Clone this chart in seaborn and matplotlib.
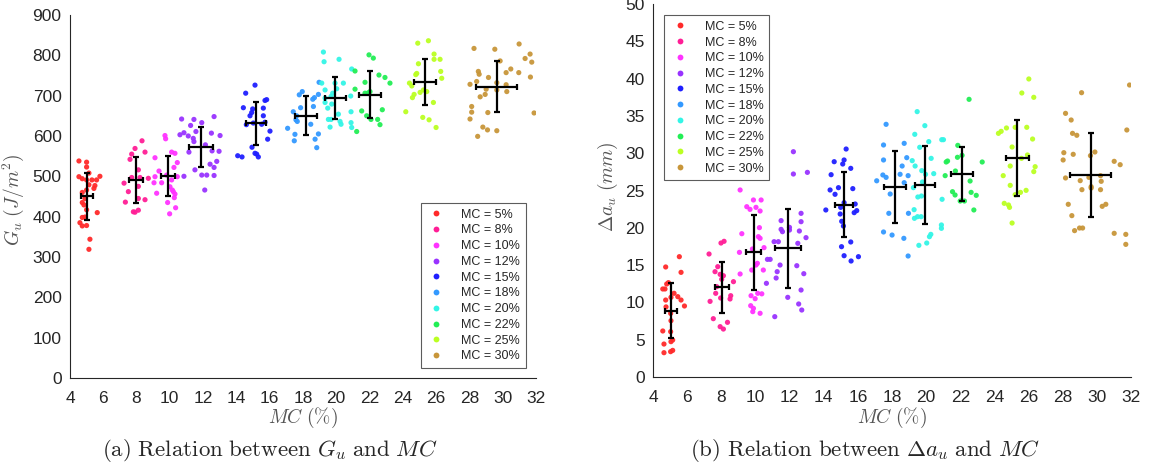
import matplotlib
matplotlib.use("Agg")
import matplotlib.pyplot as plt
from matplotlib.lines import Line2D
from matplotlib.ticker import MultipleLocator
import numpy as np
import pandas as pd
import seaborn as sns

# moisture content groups
groups = ["MC = 5%", "MC = 8%", "MC = 10%", "MC = 12%", "MC = 15%",
          "MC = 18%", "MC = 20%", "MC = 22%", "MC = 25%", "MC = 30%"]
colors = ["#ff2a2a", "#ff1e96", "#ff33ff", "#9933ff", "#1f1fff",
          "#3399ff", "#33f5e6", "#22ee55", "#bbff22", "#c8963a"]

# (a) G_u scatter, one list per group
gu_x = [
    [4.54, 5.0, 5.0, 5.14, 4.54, 4.74, 5.0, 5.32, 5.6, 5.8, 5.14, 5.5, 5.44, 5.0, 4.74, 4.9, 4.74, 4.84, 5.0, 5.64, 4.74, 4.9, 4.6, 4.74, 5.0, 5.2, 5.14],
    [8.33, 7.91, 8.51, 7.71, 7.61, 8.11, 7.71, 8.21, 8.71, 7.25, 8.11, 7.51, 8.11, 8.51, 7.33, 7.81, 7.91, 8.11],
    [9.11, 9.71, 9.75, 10.11, 10.31, 10.45, 9.35, 10.25, 9.11, 9.51, 9.05, 10.01, 10.45, 10.15, 10.21, 10.31, 10.27, 9.21, 9.87, 10.35, 9.99, 9.81, 10.11],
    [10.71, 11.45, 11.25, 11.92, 12.66, 10.85, 10.61, 11.11, 11.41, 11.57, 11.45, 12.5, 13.02, 11.15, 12.14, 12.54, 12.96, 12.82, 12.42, 12.66, 11.51, 11.92, 12.22, 12.66, 10.85, 12.1],
    [15.12, 14.56, 14.42, 14.98, 14.92, 14.82, 15.62, 15.72, 15.82, 15.62, 15.72, 15.52, 16.02, 15.88, 14.94, 14.08, 14.34, 15.12, 15.22, 15.32, 15.02, 14.6],
    [17.96, 17.78, 18.59, 18.69, 18.93, 17.86, 18.63, 17.42, 17.62, 17.58, 17.66, 18.47, 17.08, 18.93, 17.52, 18.73, 17.48, 18.83, 18.97],
    [19.23, 19.27, 20.17, 19.13, 19.33, 19.93, 20.43, 20.03, 19.79, 19.69, 19.33, 19.73, 19.49, 20.93, 20.87, 20.89, 20.13, 19.53, 19.69, 20.23, 20.29, 20.89, 20.93, 19.63, 19.33],
    [21.97, 22.23, 21.13, 22.57, 22.93, 23.23, 21.73, 21.13, 21.73, 21.93, 22.03, 22.77, 21.53, 21.83, 22.09, 22.49, 22.63, 21.23],
    [24.9, 25.54, 25.88, 25.88, 26.24, 24.94, 24.84, 24.78, 26.28, 26.34, 24.4, 24.54, 25.24, 25.44, 25.04, 24.68, 24.58, 25.84, 24.18, 25.2, 25.58, 26.0],
    [28.28, 29.53, 30.99, 31.65, 31.35, 31.75, 29.85, 30.49, 30.21, 30.97, 28.54, 28.59, 29.15, 28.44, 29.65, 31.67, 28.04, 30.21, 30.25, 29.01, 28.95, 28.65, 29.65, 28.14, 28.14, 28.04, 29.11, 31.89, 28.81, 29.09, 29.65, 28.5],
]
gu_y = [
    [538, 535, 523, 508, 499, 494, 491, 491, 491, 500, 479, 477, 470, 466, 460, 445, 435, 429, 417, 410, 398, 399, 385, 377, 378, 344, 319],
    [588, 569, 560, 555, 542, 516, 497, 497, 495, 483, 475, 462, 445, 442, 436, 412, 411, 416],
    [546, 601, 593, 560, 557, 534, 513, 522, 499, 484, 484, 474, 499, 466, 462, 456, 447, 458, 435, 422, 407, 503, 491],
    [642, 641, 626, 633, 648, 608, 603, 600, 594, 611, 586, 607, 601, 560, 578, 563, 562, 537, 530, 522, 516, 503, 503, 502, 500, 466],
    [726, 706, 670, 667, 658, 650, 669, 688, 690, 650, 634, 629, 612, 592, 572, 551, 548, 557, 555, 548, 632, 628],
    [710, 702, 691, 695, 703, 670, 673, 660, 650, 640, 636, 629, 619, 605, 604, 592, 588, 571, 733],
    [808, 784, 790, 731, 714, 731, 731, 717, 706, 698, 683, 679, 669, 766, 699, 660, 654, 641, 641, 636, 629, 633, 621, 622, 694],
    [801, 793, 761, 751, 745, 731, 733, 716, 706, 707, 710, 665, 662, 650, 641, 641, 628, 611],
    [830, 836, 803, 790, 790, 779, 755, 752, 760, 743, 731, 724, 714, 710, 708, 703, 695, 683, 660, 646, 640, 621],
    [817, 815, 828, 803, 792, 783, 786, 766, 757, 757, 760, 753, 745, 735, 732, 746, 728, 727, 710, 716, 703, 697, 714, 673, 659, 642, 658, 657, 622, 615, 613, 599],
]

# (b) delta a_u scatter, one list per group
da_x = [
    [5.54, 4.74, 5.64, 4.8, 4.9, 4.57, 4.7, 5.23, 5.45, 5.64, 5.84, 4.74, 5.05, 5.05, 5.03, 4.57, 5.03, 5.05, 5.15, 4.64, 5.03, 5.15, 4.64, 4.76],
    [7.98, 8.16, 7.28, 7.79, 7.63, 7.93, 8.12, 8.02, 8.71, 7.73, 7.67, 7.96, 8.55, 8.51, 7.34, 7.53, 8.36, 7.93, 8.12],
    [9.1, 9.88, 10.33, 9.49, 9.68, 10.03, 10.27, 9.2, 10.23, 10.17, 10.27, 10.5, 9.06, 9.82, 10.11, 10.03, 9.78, 10.46, 9.1, 9.74, 10.13, 10.37, 9.98, 9.72, 9.88, 9.84, 10.27],
    [12.22, 12.22, 13.04, 12.67, 12.67, 11.5, 11.99, 11.99, 11.5, 11.58, 12.57, 12.96, 11.09, 11.34, 12.48, 10.7, 10.86, 11.44, 12.42, 11.27, 12.83, 11.21, 10.64, 12.67, 11.89, 12.53, 12.71, 11.13],
    [15.31, 14.61, 15.19, 15.11, 15.58, 14.43, 14.37, 14.86, 15.7, 14.66, 14.12, 15.19, 15.84, 14.99, 15.93, 15.78, 14.96, 15.05, 15.15, 15.58, 15.04, 15.19, 16.03, 15.6],
    [17.1, 17.65, 17.5, 18.71, 17.5, 18.86, 18.59, 17.46, 17.65, 18.47, 18.94, 18.71, 17.89, 18.96, 17.81, 17.5, 18.0, 18.69, 18.94],
    [19.47, 19.92, 19.33, 20.15, 20.91, 21.01, 19.62, 20.29, 19.18, 19.35, 19.74, 20.44, 19.96, 19.78, 19.25, 19.51, 19.72, 20.93, 19.29, 19.31, 19.49, 19.7, 20.89, 20.89, 20.27, 20.19, 20.03, 19.57],
    [22.51, 21.85, 22.1, 21.83, 23.28, 21.17, 21.25, 21.71, 21.11, 22.57, 21.54, 21.69, 22.63, 22.93, 21.99, 22.24, 22.79],
    [26.01, 25.6, 26.3, 24.23, 24.39, 24.7, 25.21, 25.89, 26.23, 25.03, 25.93, 25.58, 26.38, 24.92, 26.3, 24.51, 24.92, 25.85, 25.52, 25.21, 24.57, 24.82, 24.88, 25.03],
    [29.1, 31.91, 28.16, 28.49, 28.57, 28.82, 31.75, 28.06, 28.02, 28.61, 29.88, 29.62, 31.01, 31.36, 28.16, 29.02, 29.53, 30.21, 30.25, 29.66, 29.66, 29.12, 30.21, 28.32, 30.31, 30.52, 28.53, 28.98, 29.16, 28.69, 31.01, 31.69, 31.69],
]
da_y = [
    [16.13, 14.75, 14.03, 12.47, 12.65, 11.8, 11.8, 11.22, 10.77, 10.32, 9.52, 10.32, 10.68, 7.55, 8.53, 6.17, 6.08, 4.74, 4.96, 4.42, 3.40, 3.57, 3.26, 9.4],
    [17.96, 18.19, 16.49, 14.79, 14.12, 13.76, 13.58, 13.1, 12.78, 12.11, 11.22, 10.59, 10.9, 10.46, 10.14, 7.82, 7.33, 6.75, 6.43],
    [25.07, 23.73, 23.73, 22.83, 22.47, 22.74, 22.25, 19.21, 20.02, 18.81, 18.59, 17.34, 16.71, 17.16, 15.24, 15.01, 14.34, 14.34, 13.81, 10.9, 11.22, 11.15, 10.5, 9.56, 9.2, 8.76, 8.54],
    [30.2, 27.21, 27.43, 21.94, 20.82, 20.96, 20.06, 19.7, 19.79, 19.48, 19.57, 18.68, 18.14, 18.14, 17.92, 15.77, 15.77, 15.01, 14.92, 14.12, 13.85, 13.27, 12.56, 11.66, 10.68, 9.79, 8.98, 8.09],
    [30.56, 28.86, 29.09, 28.55, 27.97, 27.12, 25.07, 25.38, 25.25, 24.49, 22.39, 23.37, 23.19, 22.74, 22.3, 22.03, 21.85, 20.87, 20.24, 18.1, 17.47, 16.26, 16.13, 15.55],
    [26.3, 33.87, 31.1, 31.32, 29.09, 29.4, 28.28, 27.08, 26.76, 27.17, 26.99, 26.05, 24.53, 21.94, 21.94, 19.44, 19.03, 18.59, 16.22],
    [35.57, 33.69, 32.53, 31.55, 31.81, 31.81, 30.79, 29.31, 29.0, 28.28, 27.66, 27.26, 27.17, 26.14, 25.38, 24.13, 24.26, 23.82, 22.43, 21.27, 21.49, 21.49, 20.38, 19.93, 19.12, 18.81, 17.96, 17.65],
    [37.22, 31.05, 29.71, 29.45, 28.82, 28.82, 28.95, 27.61, 26.99, 26.27, 24.84, 24.4, 24.75, 24.35, 23.59, 23.59, 22.39],
    [39.95, 38.07, 37.49, 32.66, 32.93, 33.38, 33.47, 33.47, 31.9, 30.83, 29.76, 29.31, 28.19, 28.28, 27.53, 26.99, 25.69, 25.02, 24.75, 24.44, 23.28, 23.06, 22.74, 20.64],
    [38.11, 39.14, 35.34, 34.45, 32.66, 32.4, 33.11, 30.07, 29.09, 29.85, 30.16, 29.67, 28.91, 28.46, 26.68, 26.32, 26.76, 26.99, 26.23, 25.51, 25.33, 25.11, 25.11, 23.15, 22.88, 23.15, 21.63, 19.97, 19.97, 19.62, 19.26, 19.12, 17.78],
]

# group means and standard deviations (error crosses)
gu_mean_mc = [5.04, 7.95, 9.91, 11.87, 15.16, 18.16, 19.93, 22.03, 25.33, 29.64]
gu_mc_std = [0.35, 0.41, 0.42, 0.73, 0.6, 0.66, 0.63, 0.66, 0.68, 1.23]
gu_mean = [450, 490, 500, 573, 631, 650, 695, 702, 733, 722]
gu_std = [59, 57, 50, 49, 54, 48, 52, 58, 57, 63]

da_mean_mc = [5.05, 8.02, 9.90, 11.89, 15.19, 18.18, 19.93, 22.08, 25.34, 29.64]
da_mc_std = [0.36, 0.42, 0.44, 0.75, 0.54, 0.64, 0.6, 0.65, 0.67, 1.21]
da_mean = [8.89, 12.02, 16.71, 17.25, 23.1, 25.51, 25.74, 27.21, 29.31, 27.08]
da_std = [3.65, 3.46, 5.07, 5.27, 4.38, 4.8, 5.2, 3.66, 5.1, 5.58]


def to_frame(xs, ys):
    rows = []
    for g, xx, yy in zip(groups, xs, ys):
        for a, b in zip(xx, yy):
            rows.append((g, a, b))
    return pd.DataFrame(rows, columns=["group", "mc", "val"])


sns.set_style("white")
plt.rcParams["font.family"] = ["Liberation Sans", "DejaVu Sans"]
plt.rcParams["mathtext.fontset"] = "cm"

grey = "#262626"
fig = plt.figure(figsize=(11.62, 4.74), dpi=100)
ax1 = fig.add_axes([0.0602, 0.2025, 0.401, 0.766])
ax2 = fig.add_axes([0.562, 0.2046, 0.4114, 0.787])

panels = [
    (ax1, to_frame(gu_x, gu_y), gu_mean_mc, gu_mean, gu_mc_std, gu_std),
    (ax2, to_frame(da_x, da_y), da_mean_mc, da_mean, da_mc_std, da_std),
]
for ax, df, mx, my, sx, sy in panels:
    sns.scatterplot(data=df, x="mc", y="val", hue="group", hue_order=groups,
                    palette=colors, s=14, edgecolor="none", alpha=0.95,
                    legend=False, ax=ax, zorder=2)
    ax.errorbar(mx, my, xerr=sx, yerr=sy, fmt="none", ecolor="black",
                elinewidth=1.6, capsize=2.5, capthick=1.6, zorder=3)
    ax.set_xlim(4, 32)
    ax.xaxis.set_major_locator(MultipleLocator(2))
    ax.xaxis.set_minor_locator(MultipleLocator(1))
    for s in ["top", "right"]:
        ax.spines[s].set_visible(False)
    for s in ["left", "bottom"]:
        ax.spines[s].set_color(grey)
        ax.spines[s].set_linewidth(0.8)
    ax.tick_params(which="both", direction="in", colors=grey, labelsize=12.5,
                   labelcolor=grey, width=0.8)
    ax.tick_params(which="major", length=5)
    ax.tick_params(which="minor", length=3)
    ax.tick_params(axis="x", pad=9)
    ax.tick_params(axis="y", pad=6)
    ax.set_xlabel(r"$MC\ (\%)$", fontsize=14, color="#555555")
    ax.xaxis.set_label_coords(0.5, -0.078)

ax1.set_ylim(0, 900)
ax1.yaxis.set_major_locator(MultipleLocator(100))
ax1.yaxis.set_minor_locator(MultipleLocator(50))
ax1.set_ylabel(r"$G_u\ (J/m^2)$", fontsize=14, color="#555555")
ax1.yaxis.set_label_coords(-0.094, 0.49)

ax2.set_ylim(0, 50)
ax2.yaxis.set_major_locator(MultipleLocator(5))
ax2.yaxis.set_minor_locator(MultipleLocator(2.5))
ax2.set_ylabel(r"$\Delta a_u\ (mm)$", fontsize=14, color="#555555")
ax2.yaxis.set_label_coords(-0.07, 0.51)

handles = [Line2D([], [], marker="o", linestyle="none", markersize=4.2,
                  markerfacecolor=c, markeredgecolor="none") for c in colors]
leg_kw = dict(fontsize=9, frameon=True, fancybox=False, labelspacing=0.3,
              handlelength=1.6, handletextpad=1.2, borderpad=0.45,
              borderaxespad=0, edgecolor="#333333")
l1 = ax1.legend(handles, groups, loc="lower right",
                bbox_to_anchor=(0.978, 0.0275), **leg_kw)
l2 = ax2.legend(handles, groups, loc="upper left",
                bbox_to_anchor=(0.023, 0.97), **leg_kw)
for lg in (l1, l2):
    lg.get_frame().set_linewidth(0.8)

fig.text(0.2325, 0.05, r"$\mathrm{(a)\ Relation\ between\ }G_u\mathrm{\ and\ }MC$",
         ha="center", va="center", fontsize=16.5)
fig.text(0.744, 0.05, r"$\mathrm{(b)\ Relation\ between\ }\Delta a_u\mathrm{\ and\ }MC$",
         ha="center", va="center", fontsize=16.5)

fig.savefig("out.png", dpi=100)
